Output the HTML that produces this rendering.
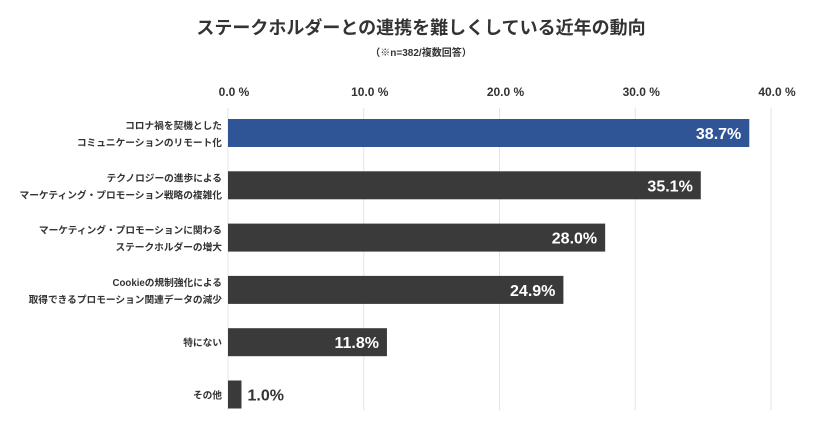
<!DOCTYPE html>
<html><head><meta charset="utf-8"><style>
body{margin:0;background:#fff;width:840px;height:425px;overflow:hidden;font-family:"Liberation Sans","Noto Sans CJK JP",sans-serif;}
svg text{font-family:"Liberation Sans","Noto Sans CJK JP",sans-serif;}
</style></head><body>
<svg id="chart" width="840" height="425" viewBox="0 0 840 425">
<text x="421" y="34" text-anchor="middle" font-size="18" font-weight="bold" fill="#333">ステークホルダーとの連携を難しくしている近年の動向</text>
<text x="421" y="56" text-anchor="middle" font-size="10" font-weight="bold" fill="#333">（※n=382/複数回答）</text>
<g id="grid"></g><g id="bars"></g>
</svg>
<script>
const categories=[["コロナ禍を契機とした","コミュニケーションのリモート化"],["テクノロジーの進歩による","マーケティング・プロモーション戦略の複雑化"],["マーケティング・プロモーションに関わる","ステークホルダーの増大"],["Cookieの規制強化による","取得できるプロモーション関連データの減少"],["特にない"],["その他"]];
const values=[38.7,35.1,28.0,24.9,11.8,1.0];
const ticks=[0,10,20,30,40];
const tickLabels=["0.0 %","10.0 %","20.0 %","30.0 %","40.0 %"];
const NS="http://www.w3.org/2000/svg";
const x=v=>228+v*13.47;
const y=i=>119+i*52.3;
const g=document.getElementById('grid'),b=document.getElementById('bars');
function mk(t,a,p){const e=document.createElementNS(NS,t);for(const k in a)e.setAttribute(k,a[k]);p.appendChild(e);return e;}
ticks.forEach((t,i)=>{
 const gx=228+t*13.575;
 const l=mk('line',{x1:gx,x2:gx,y1:108,y2:410,stroke:'#e3e3e3','stroke-width':1},g);
 
 
 const tx=mk('text',{x:gx+6,y:96,'text-anchor':'middle','font-size':12,'font-weight':'bold',fill:'#333'},g);
 tx.textContent=tickLabels[i];
 
 
});
values.forEach((v,i)=>{
 const r=mk('rect',{x:x(0),y:y(i),width:x(v)-x(0),height:28,fill:i==0?'#2f5597':'#3a3a3a'},b);
 
 
 const inside=v>5;
 const t=mk('text',{x:inside?x(v)-8:x(v)+6,y:y(i)+20,'text-anchor':inside?'end':'start','font-size':16,'font-weight':'bold',fill:inside?'#fff':'#333'},b);
 t.textContent=v.toFixed(1)+'%';
 
 
 const c=categories[i];
 c.forEach((s,j)=>{
  const ct=mk('text',{x:222,y:y(i)+(c.length==1?18:10+j*17),'text-anchor':'end','font-size':9.7,'font-weight':'bold',fill:'#333'},b);
  ct.textContent=s;
  
  
 });
});
</script>
</body></html>
